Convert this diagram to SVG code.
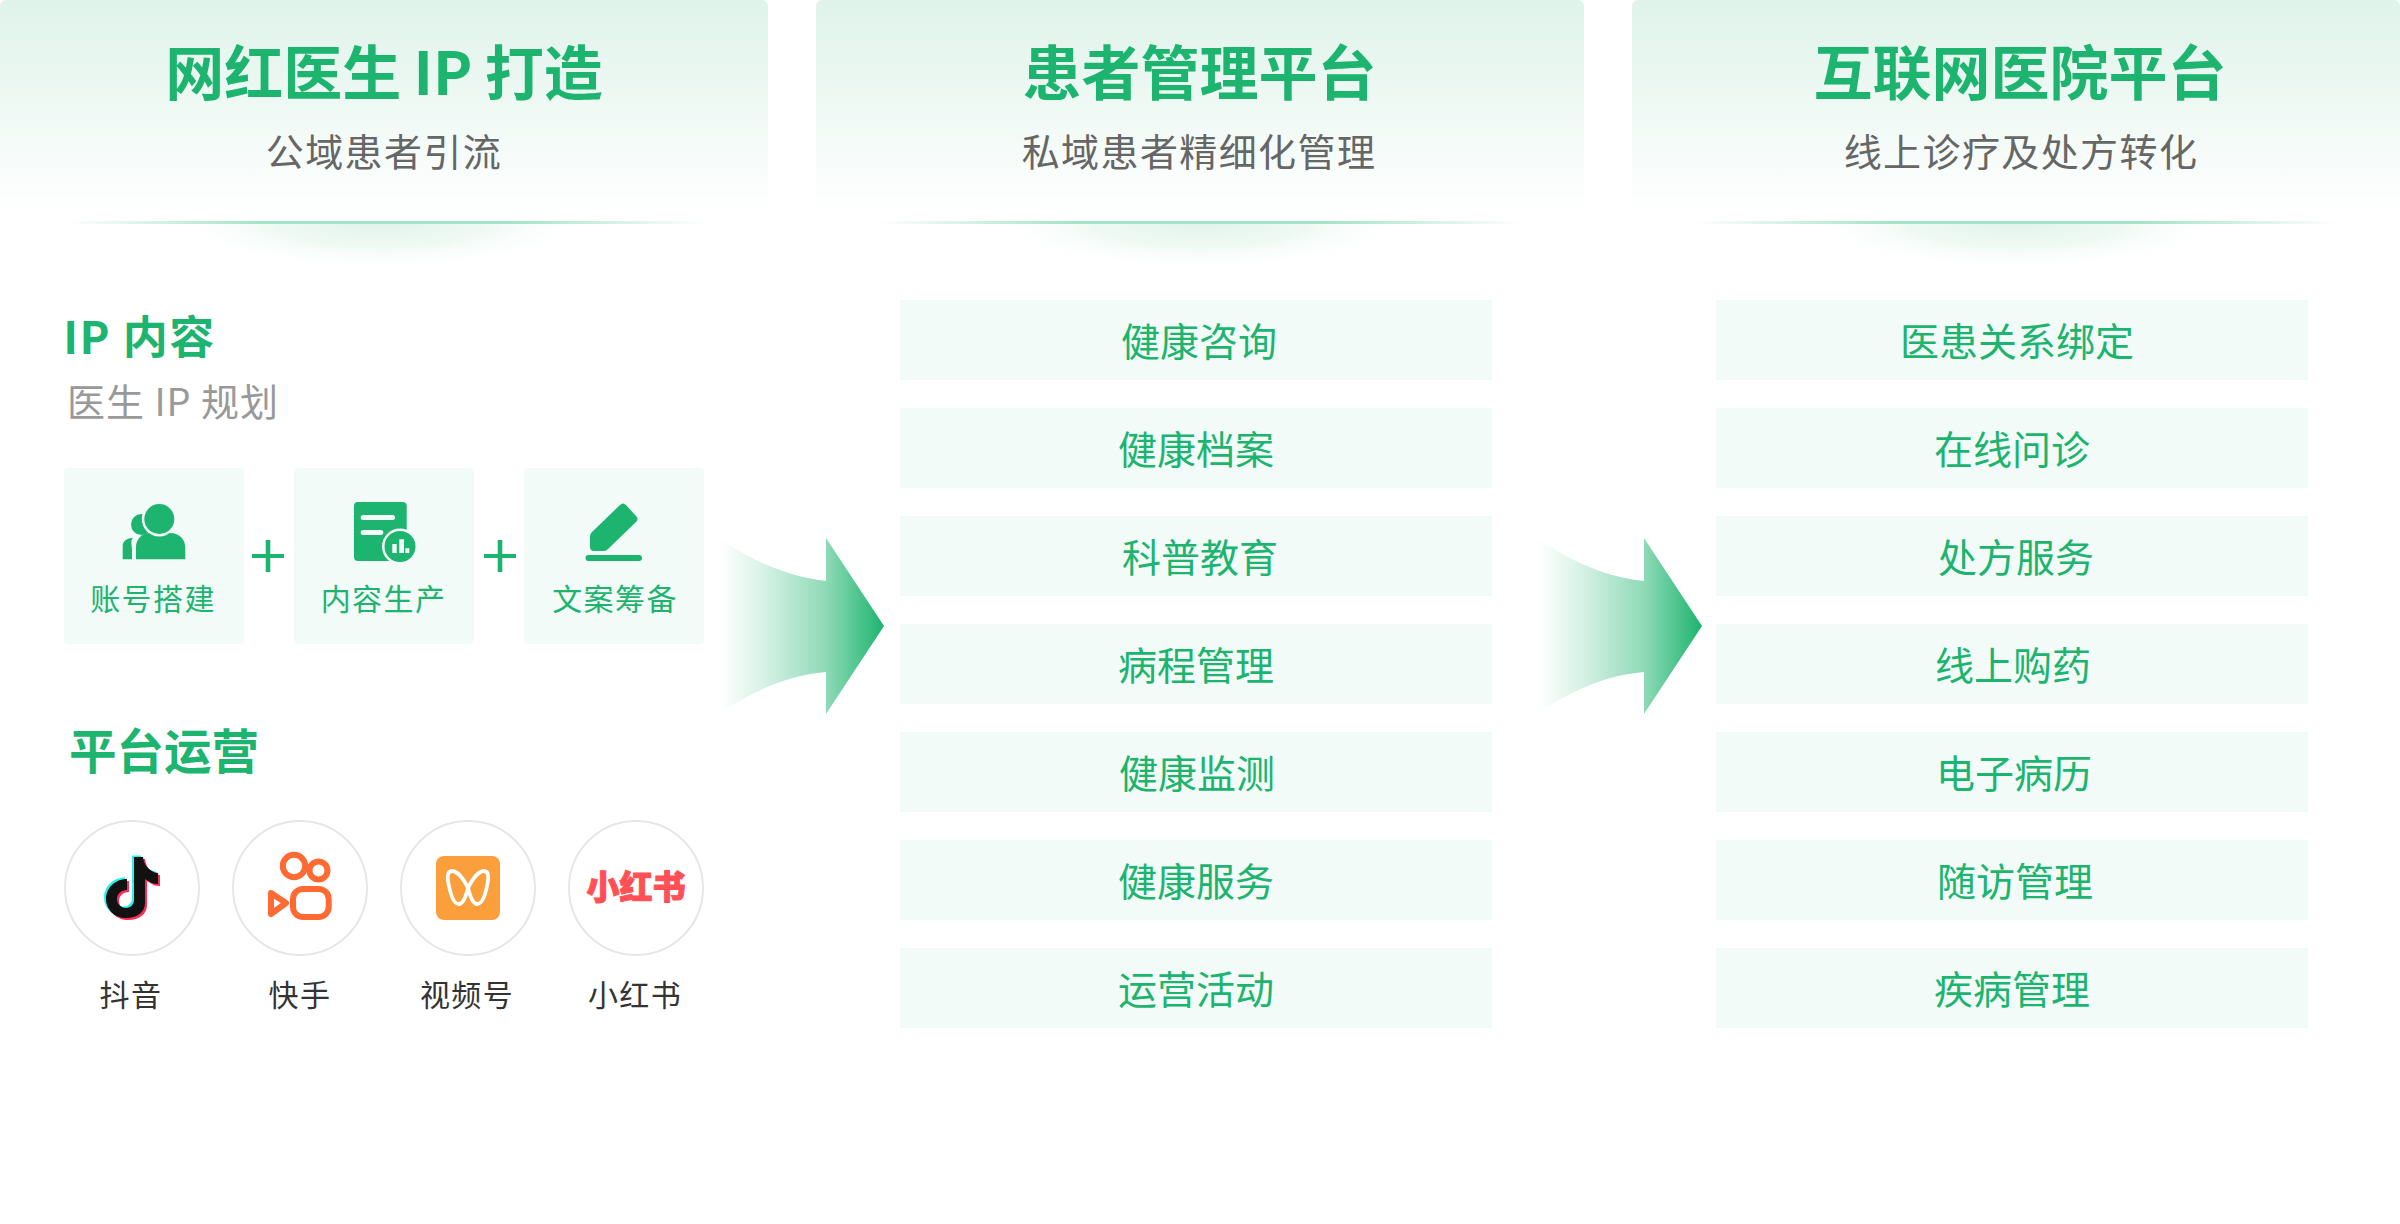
<svg xmlns="http://www.w3.org/2000/svg" width="2400" height="1224" viewBox="0 0 2400 1224">
<style>
text{font-family:"Noto Sans CJK SC","Noto Sans",sans-serif;text-anchor:middle}
.t{font-size:59px;font-weight:700;fill:#1cb46e}
.s{font-size:38px;fill:#666;letter-spacing:1.400px}
.r{font-size:39px;fill:#1cb46e}
.c{font-size:30px;fill:#1cb46e;letter-spacing:1.400px}
.p{font-size:30px;fill:#333;letter-spacing:1.400px}
.row{fill:#f2fbf7}
.ring{fill:#fff;stroke:#e6e6e6;stroke-width:2}
.g{fill:#1cb46e}
.cut{fill:#f2fbf7}
</style>
<defs>
<linearGradient id="pg" x1="0" y1="0" x2="0" y2="1"><stop offset="0" stop-color="#dff3ea"/><stop offset="1" stop-color="#fff"/></linearGradient>
<linearGradient id="lg" x1="0" y1="0" x2="1" y2="0"><stop offset="0" stop-color="#a5e3c8" stop-opacity="0"/><stop offset=".3" stop-color="#a5e3c8"/><stop offset=".7" stop-color="#a5e3c8"/><stop offset="1" stop-color="#a5e3c8" stop-opacity="0"/></linearGradient>
<radialGradient id="gl"><stop offset="0" stop-color="#e0f4ea"/><stop offset=".5" stop-color="#ecf8f2" stop-opacity=".8"/><stop offset="1" stop-color="#fff" stop-opacity="0"/></radialGradient>
<linearGradient id="ag" x1="0" y1="0" x2="1" y2="0"><stop offset="0" stop-color="#1cb46e" stop-opacity="0"/><stop offset=".1" stop-color="#1cb46e" stop-opacity=".01"/><stop offset=".32" stop-color="#1cb46e" stop-opacity=".17"/><stop offset=".68" stop-color="#1cb46e" stop-opacity=".5"/><stop offset="1" stop-color="#1cb46e"/></linearGradient>
<path id="arrow" d="M0 -96C40 -70 75 -50 121 -45V-88L179 0L121 88V46C75 50 40 70 0 96Z"/>
<path id="dy" d="M134 857H143C144 866 150 872 158 873V884C153 884 149 882 145 879V903C145 912 137 918 126 918C115 918 106 910 106 899C106 888 115 879 127 879V890C121 890 117 894 117 899C117 904 121 908 126 908C131 908 134 904 134 900Z"/>
<clipPath id="gc"><rect x="0" y="224" width="2400" height="50"/></clipPath>
</defs>

<g id="panel-1">
<path d="M0 6A6 6 0 0 1 6 0H762A6 6 0 0 1 768 6V215H0Z" fill="url(#pg)"/>
<ellipse cx="380" cy="224" rx="215" ry="46" fill="url(#gl)" clip-path="url(#gc)"/>
<rect x="66" y="221" width="640" height="3" fill="url(#lg)"/>
<text class="t" x="384" y="95" style="word-spacing:-1px">网红医生 IP 打造</text>
<text class="s" x="384" y="166">公域患者引流</text>
</g>
<g id="panel-2">
<path d="M816 6A6 6 0 0 1 822 0H1578A6 6 0 0 1 1584 6V215H816Z" fill="url(#pg)"/>
<ellipse cx="1200" cy="224" rx="215" ry="46" fill="url(#gl)" clip-path="url(#gc)"/>
<rect x="880" y="221" width="640" height="3" fill="url(#lg)"/>
<text class="t" x="1199.500" y="95">患者管理平台</text>
<text class="s" x="1199" y="166">私域患者精细化管理</text>
</g>
<g id="panel-3">
<path d="M1632 6A6 6 0 0 1 1638 0H2394A6 6 0 0 1 2400 6V215H1632Z" fill="url(#pg)"/>
<ellipse cx="2016" cy="224" rx="215" ry="46" fill="url(#gl)" clip-path="url(#gc)"/>
<rect x="1696" y="221" width="640" height="3" fill="url(#lg)"/>
<text class="t" x="2020" y="95">互联网医院平台</text>
<text class="s" x="2021" y="166">线上诊疗及处方转化</text>
</g>

<g id="ip-heading">
<text x="139.500" y="354" style="font-size:45px;font-weight:700;fill:#1cb46e;letter-spacing:1.500px">IP 内容</text>
<text x="173" y="416" style="font-size:38px;fill:#999;letter-spacing:1px">医生 IP 规划</text>
</g>

<g id="card-account">
<rect class="row" x="64" y="468" width="180" height="176" rx="4"/>
<circle class="g" cx="141.500" cy="524.500" r="10.500"/>
<path class="g" d="M122.700 559.300V546C122.700 541 127 538 133 537.700C130 541 132 545 132 549V559.300Z"/>
<path class="g" d="M136 559.300V547C136 539 142 533 150 533H170C180 533 185.300 540 185.300 548V559.300Z"/>
<circle class="cut" cx="159.300" cy="519" r="17.500"/>
<circle class="g" cx="159.300" cy="519" r="15"/>
<text class="c" x="153" y="610">账号搭建</text>
</g>
<g id="plus-1"><path class="g" d="M265.700 540h4.600v14h13.700v4h-13.700v14h-4.600v-14h-13.700v-4h13.700Z"/></g>
<g id="card-content">
<rect class="row" x="294" y="468" width="180" height="176" rx="4"/>
<rect class="g" x="354" y="502" width="52.700" height="59" rx="4"/>
<rect class="cut" x="360.700" y="515" width="34.300" height="5" rx="2.500"/>
<rect class="cut" x="360.700" y="530" width="22.600" height="5" rx="2.500"/>
<circle class="cut" cx="400" cy="546.500" r="18"/>
<circle class="g" cx="400" cy="546.500" r="15.500"/>
<path class="cut" d="M392.300 544h4.400v9h-4.400zM399.300 539.300h4.700v13.700h-4.700zM405.300 548.300h4v4.700h-4z"/>
<text class="c" x="383.500" y="610">内容生产</text>
</g>
<g id="plus-2"><path class="g" d="M497.700 540h4.600v14h13.700v4h-13.700v14h-4.600v-14h-13.700v-4h13.700Z"/></g>
<g id="card-copy">
<rect class="row" x="524" y="468" width="180" height="176" rx="4"/>
<path class="g" d="M620 505Q623 502 626 505L636 516Q639 519 636 522L608 549Q606 551 604 551H594Q590 551 590 547V536Q590 534 592 532Z"/>
<rect class="g" x="585.500" y="555" width="56.500" height="6" rx="3"/>
<text class="c" x="615" y="610">文案筹备</text>
</g>

<g id="platform-heading">
<text x="164" y="769" style="font-size:47.500px;font-weight:700;fill:#1cb46e">平台运营</text>
</g>
<g id="douyin">
<circle class="ring" cx="132" cy="888" r="67"/>
<use href="#dy" fill="#25f4ee" x="-2" y="-1.500"/>
<use href="#dy" fill="#fe2c55" x="2" y="2"/>
<use href="#dy" fill="#111"/>
<text class="p" x="131" y="1006">抖音</text>
</g>
<g id="kuaishou">
<circle class="ring" cx="300" cy="888" r="67"/>
<g fill="none" stroke="#ff6a33" stroke-width="6">
<circle cx="294" cy="866" r="11.200"/>
<circle cx="318.500" cy="870.500" r="9"/>
<rect x="293" y="889" width="35.700" height="28" rx="10"/>
<path stroke-linejoin="round" d="M271 893L286 903L271 914Z"/>
</g>
<text class="p" x="300" y="1006">快手</text>
</g>
<g id="shipinhao">
<circle class="ring" cx="468" cy="888" r="67"/>
<rect x="436" y="856" width="64" height="64" rx="8" fill="#fb9e3c"/>
<path d="M468 888C462 876 456 871 452 871C447 871 447 878 449 886C451 896 454 904 459 904C463 904 466 896 468 888C470 896 473 904 477 904C482 904 485 896 487 886C489 878 489 871 484 871C480 871 474 876 468 888Z" fill="none" stroke="#fff" stroke-width="3.800"/>
<text class="p" x="467" y="1006">视频号</text>
</g>
<g id="xiaohongshu">
<circle class="ring" cx="636" cy="888" r="67"/>
<text x="636" y="899" style="font-size:33px;font-weight:900;fill:#ff5056;stroke:#ff5056;stroke-width:1">小红书</text>
<text class="p" x="635" y="1006">小红书</text>
</g>

<g id="connectors">
<use href="#arrow" x="705" y="626" fill="url(#ag)"/>
<use href="#arrow" x="1523" y="626" fill="url(#ag)"/>
</g>

<g id="col2">
<g id="n2-1"><rect class="row" x="900" y="300" width="592" height="80"/><text class="r" x="1199" y="356">健康咨询</text></g>
<g id="n2-2"><rect class="row" x="900" y="408" width="592" height="80"/><text class="r" x="1196" y="464">健康档案</text></g>
<g id="n2-3"><rect class="row" x="900" y="516" width="592" height="80"/><text class="r" x="1200" y="572">科普教育</text></g>
<g id="n2-4"><rect class="row" x="900" y="624" width="592" height="80"/><text class="r" x="1196" y="680">病程管理</text></g>
<g id="n2-5"><rect class="row" x="900" y="732" width="592" height="80"/><text class="r" x="1197" y="788">健康监测</text></g>
<g id="n2-6"><rect class="row" x="900" y="840" width="592" height="80"/><text class="r" x="1196" y="896">健康服务</text></g>
<g id="n2-7"><rect class="row" x="900" y="948" width="592" height="80"/><text class="r" x="1196" y="1004">运营活动</text></g>
</g>
<g id="col3">
<g id="n3-1"><rect class="row" x="1716" y="300" width="592" height="80"/><text class="r" x="2017" y="356">医患关系绑定</text></g>
<g id="n3-2"><rect class="row" x="1716" y="408" width="592" height="80"/><text class="r" x="2012" y="464">在线问诊</text></g>
<g id="n3-3"><rect class="row" x="1716" y="516" width="592" height="80"/><text class="r" x="2016" y="572">处方服务</text></g>
<g id="n3-4"><rect class="row" x="1716" y="624" width="592" height="80"/><text class="r" x="2013" y="680">线上购药</text></g>
<g id="n3-5"><rect class="row" x="1716" y="732" width="592" height="80"/><text class="r" x="2014" y="788">电子病历</text></g>
<g id="n3-6"><rect class="row" x="1716" y="840" width="592" height="80"/><text class="r" x="2015" y="896">随访管理</text></g>
<g id="n3-7"><rect class="row" x="1716" y="948" width="592" height="80"/><text class="r" x="2012" y="1004">疾病管理</text></g>
</g>
</svg>
